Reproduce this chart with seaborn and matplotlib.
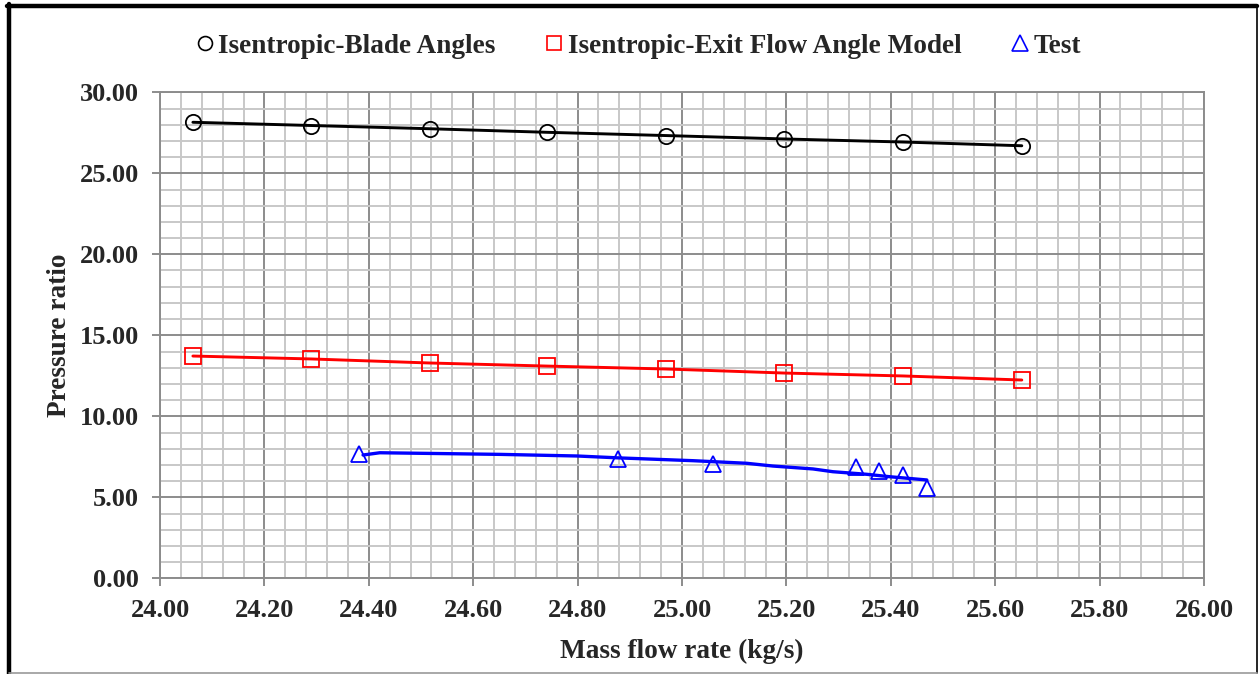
import matplotlib
matplotlib.use("Agg")
import matplotlib.pyplot as plt
from matplotlib.lines import Line2D
from matplotlib.ticker import MultipleLocator, FormatStrFormatter
import seaborn as sns
import pandas as pd

# Isentropic prediction using blade angles
blade_flow = [24.063, 24.290, 24.517, 24.742, 24.969, 25.196, 25.424, 25.651]
blade_pr = [28.15, 27.95, 27.75, 27.53, 27.33, 27.12, 26.93, 26.70]

# Isentropic prediction using the exit flow angle model
exit_flow = [24.063, 24.290, 24.517, 24.742, 24.969, 25.196, 25.424, 25.651]
exit_pr = [13.72, 13.54, 13.29, 13.10, 12.92, 12.67, 12.49, 12.24]

# Test measurements
test_flow = [24.381, 24.878, 25.060, 25.333, 25.378, 25.424, 25.469]
test_pr = [7.67, 7.36, 7.04, 6.84, 6.65, 6.35, 5.57]

# Trend through the test measurements
trend_flow = [24.389, 24.421, 24.651, 24.799, 24.881, 25.021, 25.124,
              25.174, 25.251, 25.289, 25.354, 25.398, 25.469]
trend_pr = [7.61, 7.75, 7.65, 7.55, 7.43, 7.26, 7.10,
            6.93, 6.75, 6.58, 6.42, 6.27, 6.07]

labels = ["Isentropic-Blade Angles", "Isentropic-Exit Flow Angle Model", "Test"]

sns.set_theme(style="white")
plt.rcParams["font.family"] = ["Liberation Serif", "DejaVu Serif"]
plt.rcParams["font.weight"] = "bold"

fig = plt.figure(figsize=(12.6, 6.74), dpi=100)
ax = fig.add_axes([160 / 1260, 1 - 578.3 / 674, (1204 - 160) / 1260, (578.3 - 92.3) / 674])

grid_major = "#8c8c8c"
grid_minor = "#c8c8c8"
ax.set_xlim(24.0, 26.0)
ax.set_ylim(0, 30)
ax.xaxis.set_major_locator(MultipleLocator(0.2))
ax.xaxis.set_minor_locator(MultipleLocator(0.04))
ax.yaxis.set_major_locator(MultipleLocator(5))
ax.yaxis.set_minor_locator(MultipleLocator(1))
ax.xaxis.set_major_formatter(FormatStrFormatter("%.2f"))
ax.yaxis.set_major_formatter(FormatStrFormatter("%.2f"))
ax.grid(which="minor", color=grid_minor, linewidth=1.4, zorder=0)
ax.grid(which="major", color=grid_major, linewidth=1.4, zorder=0)
ax.set_axisbelow(True)
for s in ax.spines.values():
    s.set_color(grid_major)
    s.set_linewidth(1.4)

ax.tick_params(which="major", direction="out", length=6, width=1.4, color=grid_major,
               labelsize=19, pad=9, bottom=True, left=True)
ax.tick_params(which="minor", length=0)
for t in ax.get_xticklabels() + ax.get_yticklabels():
    t.set_fontweight("bold")

blade = pd.DataFrame({"flow": blade_flow, "pr": blade_pr})
exitm = pd.DataFrame({"flow": exit_flow, "pr": exit_pr})
test = pd.DataFrame({"flow": test_flow, "pr": test_pr})
trend = pd.DataFrame({"flow": trend_flow, "pr": trend_pr})

sns.lineplot(data=blade, x="flow", y="pr", color="black", linewidth=2.1, ax=ax, zorder=3)
sns.lineplot(data=exitm, x="flow", y="pr", color="red", linewidth=2.1, ax=ax, zorder=3)
sns.lineplot(data=trend, x="flow", y="pr", color="blue", linewidth=2.4, ax=ax, zorder=3)

ax.plot(blade["flow"], blade["pr"], linestyle="none", marker="o", markersize=11,
        markerfacecolor="none", markeredgecolor="black", markeredgewidth=1.3, zorder=4)
ax.plot(exitm["flow"], exitm["pr"], linestyle="none", marker="s", markersize=11,
        markerfacecolor="none", markeredgecolor="red", markeredgewidth=1.3, zorder=4)
ax.plot(test["flow"], test["pr"], linestyle="none", marker="^", markersize=12,
        markerfacecolor="none", markeredgecolor="blue", markeredgewidth=1.3, zorder=4)

ax.set_xlabel("Mass flow rate (kg/s)", fontsize=19.6, fontweight="bold", labelpad=12)
ax.set_ylabel("Pressure ratio", fontsize=19.6, fontweight="bold", labelpad=6)

handles = [
    Line2D([], [], linestyle="none", marker="o", markersize=10, markerfacecolor="none",
           markeredgecolor="black", markeredgewidth=1.2),
    Line2D([], [], linestyle="none", marker="s", markersize=10, markerfacecolor="none",
           markeredgecolor="red", markeredgewidth=1.2),
    Line2D([], [], linestyle="none", marker="^", markersize=11, markerfacecolor="none",
           markeredgecolor="blue", markeredgewidth=1.2),
]
fig.legend(handles, labels, loc="center", bbox_to_anchor=(639 / 1260, 1 - 46 / 674),
           ncol=3, frameon=False, handlelength=0.6, handletextpad=0.2,
           columnspacing=1.85, prop={"size": 19.6, "weight": "bold"})

# Frame around the whole figure
fig.add_artist(Line2D([9 / 1260, 9 / 1260], [0, 1 - 4 / 674], color="black",
                      linewidth=3.2, transform=fig.transFigure))
fig.add_artist(Line2D([7 / 1260, 1257 / 1260], [1 - 6 / 674, 1 - 6 / 674], color="black",
                      linewidth=3.2, transform=fig.transFigure))
fig.add_artist(Line2D([1257 / 1260, 1257 / 1260], [1 / 674, 1 - 6 / 674], color="black",
                      linewidth=1.2, transform=fig.transFigure))
fig.add_artist(Line2D([9 / 1260, 1257 / 1260], [1 / 674, 1 / 674], color="#9a9a9a",
                      linewidth=1.2, transform=fig.transFigure))

fig.savefig("out.png", dpi=100)
